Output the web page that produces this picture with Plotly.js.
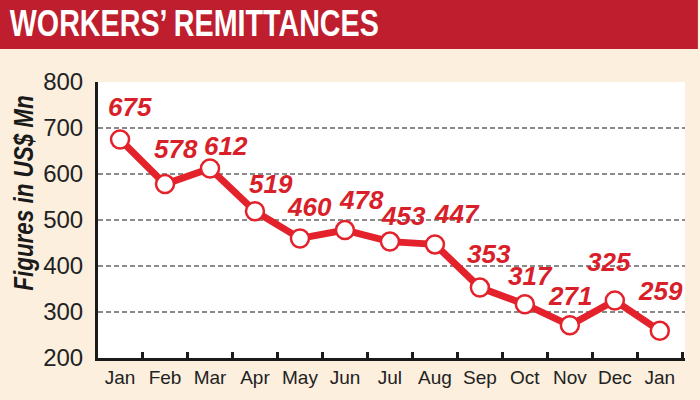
<!DOCTYPE html>
<html>
<head>
<meta charset="utf-8">
<script src="https://cdn.plot.ly/plotly-3.0.1.min.js"></script>
<style>html,body{margin:0;padding:0;background:#fcefde;}#chart{width:700px;height:400px;}</style>
</head>
<body>
<div id="chart"></div>
<script>
var months = ["Jan","Feb","Mar","Apr","May","Jun","Jul","Aug","Sep","Oct","Nov","Dec","Jan"];
var remittances = [675, 578, 612, 519, 460, 478, 453, 447, 353, 317, 271, 325, 259];
var yTicks = [200, 300, 400, 500, 600, 700, 800];

// label placement offsets in pixels (style only)
var labelDx = [10, 11, 16, 16, 10, 17, 14, 22, 9, 6, 0, -6, 1];
var labelDy = [33, 35, 22, 27, 31, 30, 26, 30, 34, 28, 29, 39, 40];

var idx = months.map(function(_, i){ return i; });
var RED = '#e3222b';
var LABEL_RED = '#d81f2a';

var trace = {
  x: idx, y: remittances, type: 'scatter', mode: 'lines+markers',
  line: {color: RED, width: 7},
  marker: {size: 18, color: '#ffffff', line: {color: RED, width: 2.5}},
  hoverinfo: 'skip', cliponaxis: false
};

var annotations = remittances.map(function(v, i){
  return {x: i, y: v, xref: 'x', yref: 'y', text: String(v), showarrow: false,
    xshift: labelDx[i], yshift: labelDy[i],
    font: {family: 'Liberation Sans, Arial, sans-serif', size: 26, color: LABEL_RED, weight: 'bold', style: 'italic'}};
});

var layout = {
  width: 700, height: 400,
  margin: {l: 98, r: 15, t: 82, b: 42},
  paper_bgcolor: '#fcefde', plot_bgcolor: '#ffffff',
  showlegend: false,
  title: {text: 'WORKERS\u2019 REMITTANCES', x: 0.014, xanchor: 'left', y: 0.975, yanchor: 'top',
    font: {family: 'Liberation Sans, Arial, sans-serif', size: 37, color: '#ffffff', weight: 'bold'}},
  shapes: [{type: 'rect', xref: 'paper', yref: 'paper', x0: -0.2, x1: 1.022, y0: 1.1196, y1: 1.31,
    fillcolor: '#be1e2d', line: {width: 0}, layer: 'below'}],
  xaxis: {
    range: [-0.49, 12.56], tickmode: 'array', tickvals: idx, ticktext: months,
    ticks: '', showgrid: false, zeroline: false,
    showline: true, linecolor: '#1a1a1a', linewidth: 3,
    tickfont: {family: 'Liberation Sans, Arial, sans-serif', size: 19, color: '#222222'},
    minor: {ticks: 'inside', tick0: 0.5, dtick: 1, ticklen: 6, tickwidth: 3, tickcolor: '#1a1a1a', showgrid: false},
    fixedrange: true
  },
  yaxis: {
    range: [200, 800], tickmode: 'array', tickvals: yTicks,
    ticks: '', showgrid: true, gridcolor: '#8a8a8a', gridwidth: 1.6, griddash: '5px,3px',
    zeroline: false, showline: true, linecolor: '#1a1a1a', linewidth: 3,
    ticklabelstandoff: 7,
    tickfont: {family: 'Liberation Sans, Arial, sans-serif', size: 24, color: '#222222'},
    title: {text: 'Figures in US$ Mn', standoff: 0,
      font: {family: 'Liberation Sans, Arial, sans-serif', size: 27, color: '#1a1a1a', weight: 'bold', style: 'italic'}},
    fixedrange: true
  },
  annotations: annotations
};

// condense a text element horizontally/vertically in screen space; optionally move its centre
function condense(sel, sx, sy, anchorLeft, target){
  var el = document.querySelector(sel);
  if (!el) return;
  var svg = el.ownerSVGElement;
  var wrap = document.createElementNS('http://www.w3.org/2000/svg', 'g');
  el.parentNode.insertBefore(wrap, el);
  wrap.appendChild(el);
  var r = el.getBoundingClientRect();
  var s = svg.getBoundingClientRect();
  var px = anchorLeft ? (r.left - s.left) : (r.left - s.left + r.width / 2);
  var py = r.top - s.top + r.height / 2;
  var tx = 0, ty = 0;
  if (target) { tx = target[0] - px; ty = target[1] - py; }
  wrap.setAttribute('transform', 'translate(' + (px + tx) + ',' + (py + ty) + ') scale(' + sx + ',' + sy + ') translate(' + (-px) + ',' + (-py) + ')');
}

Plotly.newPlot('chart', [trace], layout, {displayModeBar: false, staticPlot: true}).then(function(){
  condense('.gtitle', 0.775, 1, true, null);
  condense('.g-ytitle text', 1, 0.83, false, [24, 193]);
});
</script>
</body>
</html>
